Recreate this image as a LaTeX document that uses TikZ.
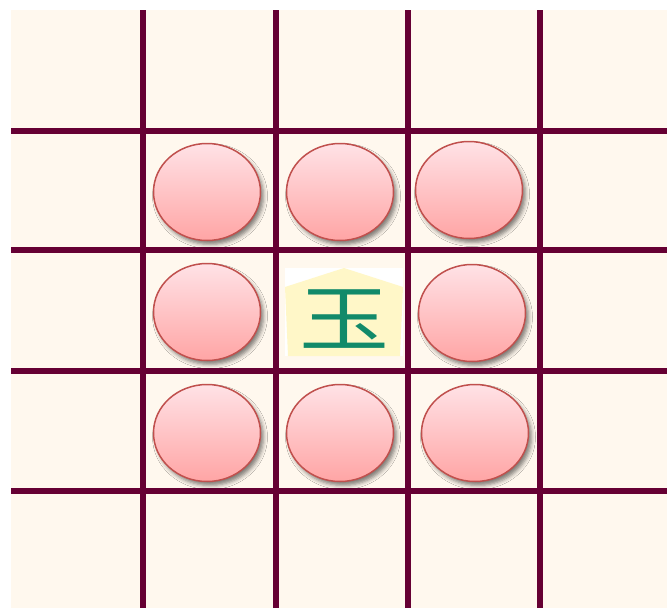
\documentclass[tikz,border=0pt]{standalone}
\usepackage{fontspec}
\newfontfamily\cjk{Noto Sans CJK JP}
\usetikzlibrary{shapes.geometric,shadows.blur}
\definecolor{bgcream}{RGB}{255,248,238}
\definecolor{gridline}{RGB}{102,0,51}
\definecolor{stoneedge}{RGB}{192,80,77}
\definecolor{stonetop}{RGB}{255,226,230}
\definecolor{stonebot}{RGB}{255,165,165}
\definecolor{piecefill}{RGB}{255,247,200}
\definecolor{piecetext}{RGB}{18,138,106}
\tikzset{
  gridrule/.style={draw=gridline,line width=6pt},
  stone/.style={ellipse,draw=stoneedge,line width=1.5pt,minimum width=107pt,minimum height=97pt,
    top color=stonetop,bottom color=stonebot,inner sep=0pt,
    blur shadow={shadow xshift=3pt,shadow yshift=-4pt,shadow blur radius=4pt,shadow opacity=50}},
}
\begin{document}
\begin{tikzpicture}[x=1pt,y=-1pt]
\useasboundingbox (0,0) rectangle (667,608);
\fill[bgcream] (11,10) rectangle (667,608);
\foreach \gx in {143,276,408,540} \draw[gridrule] (\gx,10) -- (\gx,608);
\foreach \gy in {131,250,371,491} \draw[gridrule] (11,\gy) -- (667,\gy);
\node[stone] (s11) at (207,192) {};
\node[stone] (s12) at (340,192) {};
\node[stone] (s13) at (469,190) {};
\node[stone] (s21) at (207,312) {};
\node[stone] (s23) at (472,313) {};
\node[stone] (s31) at (207,433) {};
\node[stone] (s32) at (340,433) {};
\node[stone] (s33) at (475,433) {};
\fill[white] (285,268) rectangle (403,356);
\fill[piecefill] (344,268) -- (403,287) -- (400,356) -- (288,356) -- (285,287) -- cycle;
\node[text=piecetext,inner sep=0pt,yscale=0.8] (king) at (344,319) {\cjk\fontsize{90}{90}\selectfont 玉};
\end{tikzpicture}
\end{document}
